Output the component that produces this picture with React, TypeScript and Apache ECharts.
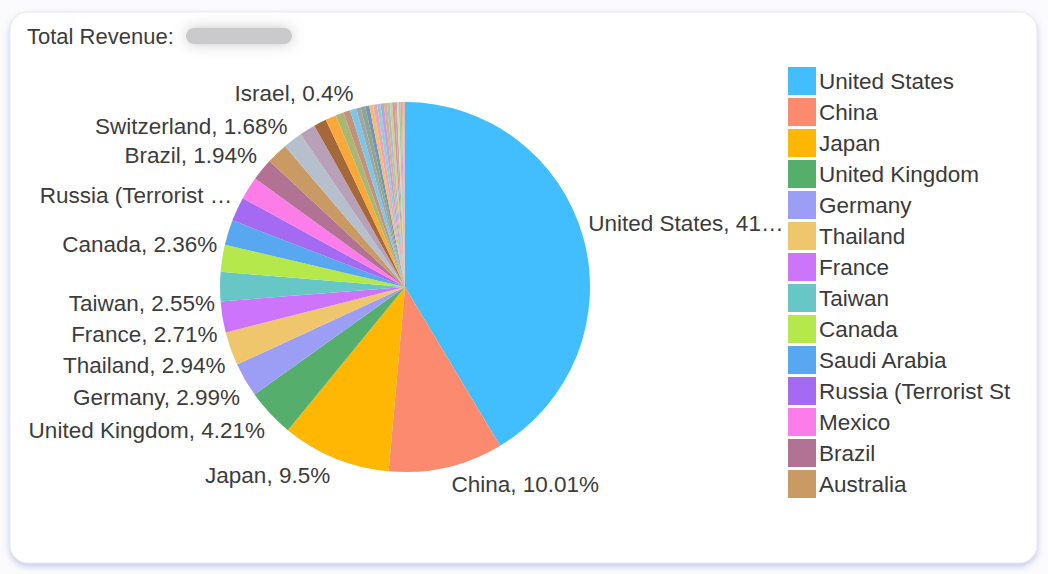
import React, { useEffect, useRef } from "react";
import * as echarts from "echarts";

const countries = [
  "United States", "China", "Japan", "United Kingdom", "Germany", "Thailand", "France", "Taiwan",
  "Canada", "Saudi Arabia", "Russia (Terrorist State)", "Mexico", "Brazil", "Australia", "Switzerland",
  "Netherlands", "South Korea", "Singapore", "Italy", "Spain", "India", "Israel",
  "Sweden", "Poland", "United Arab Emirates", "Belgium", "Norway", "Denmark", "Austria", "Ireland",
  "Finland", "Portugal", "New Zealand", "Czech Republic", "Malaysia", "Turkey", "Vietnam",
  "Indonesia", "Philippines", "Hong Kong",
];
const shares = [
  41.4, 10.01, 9.5, 4.21, 2.99, 2.94, 2.71, 2.55,
  2.36, 2.2, 2.1, 2.0, 1.94, 1.86, 1.68,
  1.4, 1.1, 0.95, 0.7, 0.6, 0.55, 0.4,
  0.39, 0.36, 0.35, 0.33, 0.3, 0.29, 0.27, 0.24,
  0.22, 0.21, 0.19, 0.16, 0.15, 0.12, 0.1,
  0.08, 0.05, 0.04,
];
const colors = [
  "#42bdfd", "#fb8a6e", "#ffb703", "#55ae6c", "#9c9ef5", "#f0c66c", "#cc74fb", "#66c7c6",
  "#b5e84b", "#57a8f0", "#a56af2", "#fc7ce9", "#b27294", "#c99a64", "#b5c0cc",
  "#b8a0b8", "#a5683a", "#fba83a", "#a8b872", "#c4917f", "#7cc6e6", "#a0a4ac",
  "#8aa88a", "#7c8fbf", "#e8c470", "#f0a0c0", "#90d0d0", "#c0a0e0", "#e0b080", "#a0c0e0",
  "#d0d080", "#e090a0", "#b0b0b0", "#f0d0a0", "#9ad0a0", "#c8a0d8", "#f4b080",
  "#a8c8f0", "#d8a8a8", "#c4a0a8",
];
const labelled = [
  "United States", "China", "Japan", "United Kingdom", "Germany", "Thailand", "France", "Taiwan",
  "Canada", "Russia (Terrorist State)", "Brazil", "Switzerland", "Israel",
];
const legendNames = countries.slice(0, 14);

const FONT = "'Liberation Sans', Arial, sans-serif";
const CX = 405;
const CY = 287;

export default function App() {
  const ref = useRef<HTMLDivElement>(null);
  useEffect(() => {
    if (!ref.current) return;
    const chart = echarts.init(ref.current, null, { renderer: "svg" });
    const data = countries.map((name, i) => {
      const item: any = { name, value: shares[i], itemStyle: { color: colors[i] } };
      if (!labelled.includes(name)) {
        item.label = { show: false };
      } else if (name === "United States") {
        item.label = { width: 201, overflow: "truncate", ellipsis: "…" };
      } else if (name.startsWith("Russia")) {
        item.label = { width: 196, overflow: "truncate", ellipsis: " …" };
      }
      return item;
    });
    chart.setOption({
      animation: false,
      backgroundColor: "#fbfbfd",
      textStyle: { fontFamily: FONT },
      graphic: [
        {
          type: "rect",
          shape: { x: 10, y: 12, width: 1027, height: 551, r: 18 },
          style: {
            fill: "#ffffff",
            stroke: "#e6e9f2",
            lineWidth: 1,
            shadowBlur: 6,
            shadowOffsetY: 3,
            shadowColor: "rgba(120,140,210,0.45)",
          },
          z: -10,
        },
        {
          type: "text",
          left: 27,
          top: 25,
          style: { text: "Total Revenue:", fontSize: 22, fill: "#3c3c3c", fontFamily: FONT },
        },
        {
          type: "rect",
          shape: { x: 186, y: 28, width: 106, height: 16, r: 8 },
          style: { fill: "#cacacd", shadowBlur: 14, shadowColor: "#cacacd" },
        },
      ],
      legend: {
        orient: "vertical",
        left: 783,
        top: 62,
        data: legendNames,
        icon: "rect",
        itemWidth: 28,
        itemHeight: 28,
        itemGap: 3,
        selectedMode: false,
        textStyle: {
          fontSize: 22.5,
          color: "#3a3a3a",
          fontFamily: FONT,
          padding: [0, 0, 0, -2],
          width: 194,
          overflow: "truncate",
          ellipsis: "",
        },
      },
      series: [
        {
          type: "pie",
          center: [CX, CY],
          radius: [0, 185],
          startAngle: 90,
          clockwise: true,
          avoidLabelOverlap: true,
          data,
          label: {
            show: true,
            position: "outside",
            formatter: "{b}, {d}%",
            fontSize: 22.5,
            color: "#3c3c3c",
            fontFamily: FONT,
          },
          labelLine: { show: false, length: 0, length2: 0 },
          labelLayout: (params: any) => {
            const r = params.labelRect;
            const mid = r.y + r.height / 2;
            return { dy: mid < CY - 5 ? -14 : 17 };
          },
          itemStyle: { borderWidth: 0 },
          emphasis: { disabled: true },
        },
      ],
    });
    return () => chart.dispose();
  }, []);
  return (
    <div
      ref={ref}
      style={{ position: "fixed", left: 0, top: 0, width: 1048, height: 574 }}
    />
  );
}
